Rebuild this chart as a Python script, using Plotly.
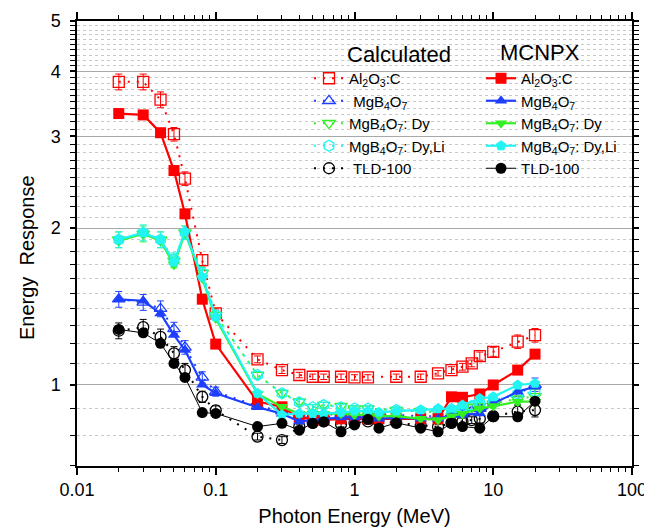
import plotly.graph_objects as go
import numpy as np

# ---------------- data ----------------
E_mc = [0.02, 0.03, 0.04, 0.05, 0.06, 0.08, 0.1, 0.2, 0.3, 0.4, 0.5, 0.6, 0.8, 1,
        1.25, 1.5, 2, 3, 4, 5, 6, 8, 10, 15, 20]
E_calc = [0.02, 0.03, 0.04, 0.05, 0.06, 0.08, 0.1, 0.2, 0.3, 0.4, 0.5, 0.6, 0.8, 1,
          1.25, 2, 3, 4, 5, 6, 7, 8, 10, 15, 20]

# Calculated
al_calc = [3.82, 3.82, 3.53, 3.03, 2.49, 1.735, 1.371, 1.119, 1.067, 1.044, 1.036, 1.036,
           1.036, 1.033, 1.033, 1.036, 1.036, 1.052, 1.067, 1.083, 1.099, 1.135, 1.157, 1.21, 1.245]
mgb_calc = [1.46, 1.44, 1.40, 1.28, 1.18, 1.033, 0.97, 0.91, 0.89, 0.875, 0.875, 0.875,
            0.88, 0.88, 0.88, 0.875, 0.87, 0.87, 0.88, 0.885, 0.89, 0.90, 0.93, 0.96, 1.0]
dy_calc = [1.90, 1.95, 1.90, 1.73, 1.96, 1.64, 1.36, 1.044, 0.963, 0.928, 0.905, 0.914,
           0.91, 0.90, 0.90, 0.894, 0.89, 0.885, 0.89, 0.90, 0.905, 0.91, 0.92, 0.94, 0.95]
dyli_calc = [1.90, 1.96, 1.90, 1.74, 1.96, 1.64, 1.36, 1.044, 0.963, 0.925, 0.905, 0.914,
             0.905, 0.90, 0.90, 0.894, 0.89, 0.89, 0.895, 0.905, 0.91, 0.92, 0.93, 0.96, 0.97]
tld_calc = [1.27, 1.29, 1.236, 1.149, 1.067, 0.948, 0.893, 0.795, 0.783, 0.83, 0.845, 0.85,
            0.84, 0.845, 0.85, 0.845, 0.835, 0.83, 0.845, 0.85, 0.855, 0.86, 0.87, 0.888, 0.894]
# relative uncertainty of the calculated values (%)
err_calc = [3.5, 3.5, 3.5, 3.0, 3.0, 2.5, 2.0, 1.5, 1.5, 1.2, 1.2, 1.2, 1.2, 1.2, 1.2,
            1.2, 1.2, 1.2, 1.5, 1.5, 1.5, 1.8, 2.0, 3.0, 3.0]

# MCNPX
al_mc = [3.32, 3.30, 3.05, 2.58, 2.13, 1.46, 1.197, 0.928, 0.907, 0.862, 0.862, 0.855,
         0.86, 0.86, 0.86, 0.86, 0.86, 0.86, 0.86, 0.948, 0.946, 0.96, 0.999, 1.067, 1.145]
mgb_mc = [1.459, 1.45, 1.371, 1.246, 1.166, 1.0, 0.963, 0.905, 0.88, 0.85, 0.855, 0.86,
          0.865, 0.865, 0.865, 0.86, 0.865, 0.86, 0.86, 0.875, 0.875, 0.881, 0.92, 0.97, 0.991]
dy_mc = [1.89, 1.95, 1.89, 1.70, 1.96, 1.60, 1.34, 0.96, 0.907, 0.88, 0.88, 0.88,
         0.88, 0.875, 0.875, 0.87, 0.87, 0.86, 0.856, 0.87, 0.88, 0.90, 0.91, 0.928, 0.928]
dyli_mc = [1.90, 1.96, 1.90, 1.72, 1.97, 1.61, 1.35, 0.963, 0.875, 0.881, 0.88, 0.88,
           0.885, 0.89, 0.89, 0.885, 0.89, 0.895, 0.9, 0.901, 0.914, 0.941, 0.948, 0.999, 1.006]
tld_mc = [1.277, 1.258, 1.201, 1.099, 1.033, 0.884, 0.881, 0.831, 0.843, 0.818, 0.843, 0.849,
          0.812, 0.837, 0.858, 0.825, 0.845, 0.825, 0.812, 0.843, 0.831, 0.825, 0.868, 0.868, 0.93]

names = ["Al<sub>2</sub>O<sub>3</sub>:C", "MgB<sub>4</sub>O<sub>7</sub>",
         "MgB<sub>4</sub>O<sub>7</sub>: Dy", "MgB<sub>4</sub>O<sub>7</sub>: Dy,Li", "TLD-100"]
calc_names = ["Al<sub>2</sub>O<sub>3</sub>:C", " MgB<sub>4</sub>O<sub>7</sub>",
              "MgB<sub>4</sub>O<sub>7</sub>: Dy", "MgB<sub>4</sub>O<sub>7</sub>: Dy,Li", " TLD-100"]
x_ticks = [0.01, 0.1, 1, 10, 100]
x_ticktext = ["0.01", "0.1", "1", "10", "100"]
y_ticks = [1, 2, 3, 4, 5]

colors = ["#ff0000", "#1f3fff", "#33f022", "#22f4f4", "#000000"]
calc_symbols = ["square-open", "triangle-up-open", "triangle-down-open", "hexagon-open", "circle-open"]
mc_symbols = ["square", "triangle-up", "triangle-down", "pentagon", "circle"]
calc_series = [al_calc, mgb_calc, dy_calc, dyli_calc, tld_calc]
mc_series = [al_mc, mgb_mc, dy_mc, dyli_mc, tld_mc]
mc_widths = [2.2, 2.2, 2.2, 2.2, 1.0]

fig = go.Figure()
for i in range(5):
    yv = np.array(calc_series[i])
    err_abs = yv * np.array(err_calc) / 100.0
    fig.add_trace(go.Scatter(
        x=E_calc, y=calc_series[i], mode="lines+markers", name=calc_names[i],
        line=dict(color=colors[i], width=2, dash="2px,7px"),
        marker=dict(symbol=calc_symbols[i], size=11, color=colors[i],
                    line=dict(width=1.3, color=colors[i])),
        error_y=dict(type="data", array=err_abs, color=colors[i], thickness=1, width=3.5),
        legend="legend"))
for i in range(5):
    fig.add_trace(go.Scatter(
        x=E_mc, y=mc_series[i], mode="lines+markers", name=names[i],
        line=dict(color=colors[i], width=mc_widths[i]),
        marker=dict(symbol=mc_symbols[i], size=11, color=colors[i], line=dict(width=0)),
        legend="legend2"))

minor_y = [round(v, 1) for v in np.arange(0.7, 5.0, 0.1) if abs(v - round(v)) > 1e-6]

# page body has an 8px default margin -> figure is offset by 8px
OFF = 8
W, H = 644, 520
L, R, T, B = 69, 20, 13, 62
PW, PH = W - L - R, H - T - B


def px(x_abs):
    return (x_abs - OFF - L) / PW


def py(y_abs):
    return (H - B - (y_abs - OFF)) / PH


font_family = "Liberation Sans, Arial, sans-serif"
fig.update_layout(
    width=W, height=H,
    margin=dict(l=L, r=R, t=T, b=B),
    plot_bgcolor="white", paper_bgcolor="white",
    font=dict(family=font_family, color="black", size=15),
    showlegend=True,
    legend=dict(x=px(309), y=py(62), xanchor="left", yanchor="top", bgcolor="rgba(0,0,0,0)",
                font=dict(size=15), tracegroupgap=0),
    legend2=dict(x=px(481), y=py(62), xanchor="left", yanchor="top", bgcolor="rgba(0,0,0,0)",
                 font=dict(size=15), tracegroupgap=0),
    xaxis=dict(type="log", range=[-2, 2], showline=True, linecolor="black", linewidth=1.5,
               mirror="ticks", ticks="outside", ticklen=7, tickwidth=1.5, tickcolor="black",
               tickvals=x_ticks, ticktext=x_ticktext,
               tickfont=dict(size=18), showgrid=False, zeroline=False, automargin=False,
               minor=dict(ticks="outside", ticklen=4, tickwidth=1.2, tickcolor="black",
                          dtick="D1", showgrid=False),
               title=dict(text="Photon Energy (MeV)", font=dict(size=20), standoff=10)),
    yaxis=dict(type="log", range=[np.log10(0.698), np.log10(5)], showline=True, linecolor="black",
               linewidth=1.5, mirror="ticks", ticks="outside", ticklen=5, tickwidth=1.5,
               tickcolor="black", tickvals=y_ticks, ticktext=[str(v) for v in y_ticks],
               ticklabelstandoff=6,
               tickfont=dict(size=18), showgrid=True, gridcolor="#a8a8a8", gridwidth=1,
               zeroline=False, automargin=False,
               minor=dict(ticks="outside", ticklen=5, tickwidth=1.2, tickcolor="black",
                          tickmode="array", tickvals=minor_y, showgrid=True,
                          gridcolor="#c8c8c8", griddash="dot", gridwidth=1)),
    annotations=[
        dict(text="Calculated", x=px(399), y=py(54), xref="paper", yref="paper",
             showarrow=False, font=dict(size=22), xanchor="center", yanchor="middle"),
        dict(text="MCNPX", x=px(540), y=py(52), xref="paper", yref="paper",
             showarrow=False, font=dict(size=22), xanchor="center", yanchor="middle"),
        dict(text="Energy  Response", x=px(27), y=py(258), xref="paper", yref="paper",
             showarrow=False, font=dict(size=20), textangle=-90,
             xanchor="center", yanchor="middle"),
    ],
)

fig.write_html("out.html")
